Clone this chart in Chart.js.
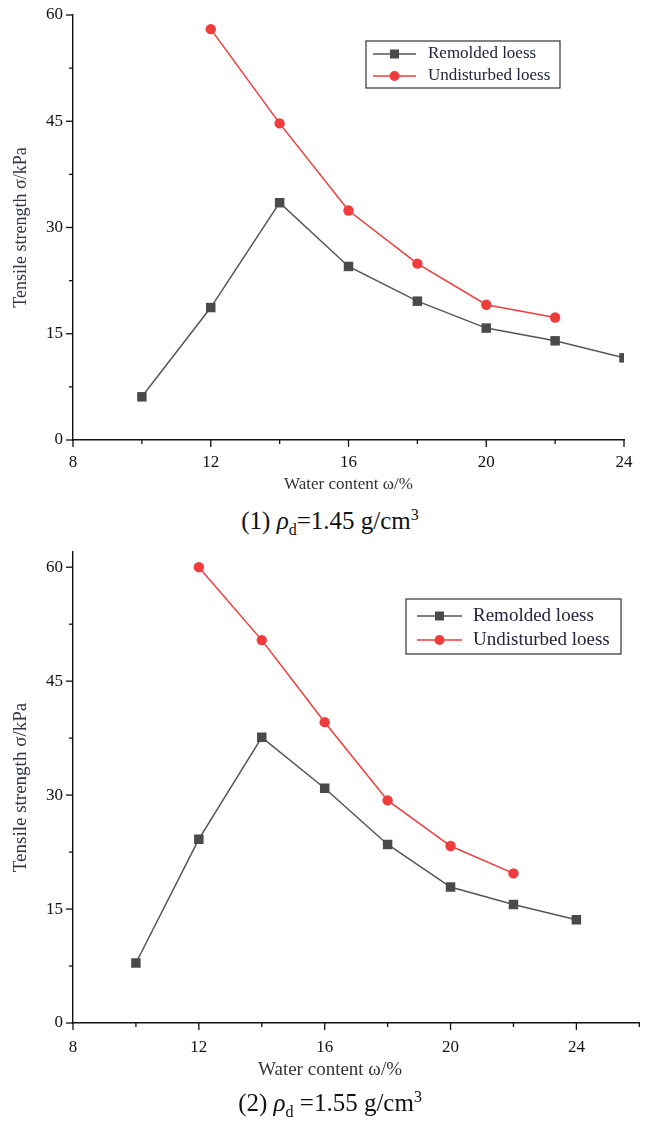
<!DOCTYPE html>
<html>
<head>
<meta charset="utf-8">
<script src="https://cdn.jsdelivr.net/npm/chart.js@4/dist/chart.umd.min.js"></script>
<style>
  body { margin: 0; background: #fff; }
  #wrap { position: relative; width: 646px; height: 1122px; }
  canvas { position: absolute; left: 0; }
  .cap { position: absolute; left: 0; width: 660px; text-align: center;
         font-family: "Liberation Serif", serif; font-size: 25px; color: #111; line-height: 28px; }
  .cap sub, .cap sup { font-size: 16px; }
</style>
</head>
<body>
<div id="wrap">
  <canvas id="c1" width="646" height="500" style="top:0"></canvas>
  <div class="cap" style="top:501px">(1) <i>ρ</i><sub>d</sub>=1.45 g/cm<sup>3</sup></div>
  <canvas id="c2" width="646" height="555" style="top:530px"></canvas>
  <div class="cap" style="top:1083px">(2) <i>ρ</i><sub>d</sub> =1.55 g/cm<sup>3</sup></div>
</div>
<script>
// water content (%) for each series
const remoldedX = [10, 12, 14, 16, 18, 20, 22, 24];
const undisturbedX = [12, 14, 16, 18, 20, 22];

// tensile strength (kPa), rho_d = 1.45 g/cm3
const remolded145 = [6.1, 18.7, 33.5, 24.5, 19.6, 15.8, 14.0, 11.6];
const undisturbed145 = [58.0, 44.7, 32.4, 24.9, 19.1, 17.3];

// tensile strength (kPa), rho_d = 1.55 g/cm3
const remolded155 = [7.9, 24.2, 37.6, 30.9, 23.5, 17.9, 15.6, 13.6];
const undisturbed155 = [60.0, 50.4, 39.6, 29.3, 23.3, 19.7];

const xLabels = [8, 12, 16, 20, 24];
const yLabels = [0, 15, 30, 45, 60];

const GRAY = '#4a4a4a';
const RED = '#f03c3c';
const SERIF = '"Liberation Serif", "Times New Roman", serif';

function pts(xs, ys) {
  return xs.map(function (x, i) { return { x: x, y: ys[i] }; });
}

// short outward tick marks, long on labelled values
const tickMarks = {
  id: 'tickMarks',
  afterDraw: function (chart) {
    const ctx = chart.ctx;
    ctx.save();
    ctx.strokeStyle = '#111';
    ctx.lineWidth = 1.3;
    const xs = chart.scales.x, ys = chart.scales.y;
    xs.ticks.forEach(function (t) {
      const px = xs.getPixelForValue(t.value);
      const len = xLabels.indexOf(t.value) >= 0 ? 7 : 4;
      ctx.beginPath();
      ctx.moveTo(px, xs.top);
      ctx.lineTo(px, xs.top + len);
      ctx.stroke();
    });
    ys.ticks.forEach(function (t) {
      const py = ys.getPixelForValue(t.value);
      const len = yLabels.indexOf(t.value) >= 0 ? 7 : 4;
      ctx.beginPath();
      ctx.moveTo(ys.right, py);
      ctx.lineTo(ys.right - len, py);
      ctx.stroke();
    });
    ctx.restore();
  }
};

// boxed legend like the original figure
const boxLegend = {
  id: 'boxLegend',
  afterDraw: function (chart, args, opts) {
    const ctx = chart.ctx;
    ctx.save();
    ctx.strokeStyle = '#333';
    ctx.lineWidth = 1.2;
    ctx.strokeRect(opts.x, opts.y, opts.w, opts.h);
    ctx.font = opts.fontSize + 'px ' + SERIF;
    ctx.textBaseline = 'middle';
    chart.data.datasets.forEach(function (ds, i) {
      const y = opts.rowY[i];
      ctx.strokeStyle = ds.borderColor;
      ctx.lineWidth = 1.6;
      ctx.beginPath();
      ctx.moveTo(opts.lineX, y);
      ctx.lineTo(opts.lineX + opts.lineW, y);
      ctx.stroke();
      ctx.fillStyle = ds.pointBackgroundColor;
      const cx = opts.lineX + opts.lineW / 2;
      if (ds.pointStyle === 'rect') {
        ctx.fillRect(cx - 4.5, y - 4.5, 9, 9);
      } else {
        ctx.beginPath();
        ctx.arc(cx, y, 5, 0, Math.PI * 2);
        ctx.fill();
      }
      ctx.fillStyle = '#22243a';
      ctx.fillText(ds.label, opts.textX, y);
    });
    ctx.restore();
  }
};

function makeChart(id, remolded, undisturbed, cfg) {
  return new Chart(document.getElementById(id), {
    type: 'line',
    data: {
      datasets: [{
        label: 'Remolded loess',
        data: pts(remoldedX, remolded),
        borderColor: '#555555',
        borderWidth: 1.5,
        pointStyle: 'rect',
        pointRadius: 6.7,
        pointBackgroundColor: GRAY,
        pointBorderColor: GRAY,
        pointBorderWidth: 0,
        clip: 0
      }, {
        label: 'Undisturbed loess',
        data: pts(undisturbedX, undisturbed),
        borderColor: RED,
        borderWidth: 1.5,
        pointStyle: 'circle',
        pointRadius: 5.2,
        pointBackgroundColor: RED,
        pointBorderColor: RED,
        pointBorderWidth: 0,
        clip: 0
      }]
    },
    options: {
      responsive: false,
      animation: false,
      devicePixelRatio: 1,
      layout: { padding: cfg.padding },
      plugins: {
        legend: { display: false },
        tooltip: { enabled: false },
        boxLegend: cfg.legend
      },
      scales: {
        x: {
          type: 'linear',
          min: 8,
          max: cfg.xMax,
          afterFit: function (s) {
            s.height = cfg.xHeight;
            s.paddingLeft = 0;
            s.paddingRight = 0;
          },
          grid: { display: false, drawTicks: false },
          border: { display: true, color: '#111', width: 1.4 },
          ticks: {
            stepSize: 2,
            autoSkip: false,
            maxRotation: 0,
            padding: cfg.xTickPad,
            color: '#111',
            font: { family: SERIF, size: 17 },
            callback: function (v) { return xLabels.indexOf(v) >= 0 ? String(v) : ''; }
          },
          title: {
            display: true,
            text: cfg.xTitle,
            color: '#333',
            padding: cfg.xTitlePad,
            font: { family: SERIF, size: cfg.titleSize }
          }
        },
        y: {
          min: 0,
          max: cfg.yMax,
          afterFit: function (s) {
            s.width = 73;
            s.paddingTop = 0;
            s.paddingBottom = 0;
          },
          grid: { display: false, drawTicks: false },
          border: { display: true, color: '#111', width: 1.4 },
          ticks: {
            stepSize: 7.5,
            includeBounds: false,
            autoSkip: false,
            padding: 10,
            color: '#111',
            font: { family: SERIF, size: 17 },
            callback: function (v) { return yLabels.indexOf(v) >= 0 ? String(v) : ''; }
          },
          title: {
            display: true,
            text: 'Tensile strength σ/kPa',
            color: '#2f3447',
            padding: 10,
            font: { family: SERIF, size: cfg.yTitleSize }
          }
        }
      }
    },
    plugins: [tickMarks, boxLegend]
  });
}

makeChart('c1', remolded145, undisturbed145, {
  padding: { top: 15, right: 22, left: 0, bottom: 0 },
  xMax: 24, yMax: 60, xHeight: 60, xTickPad: 12, xTitlePad: 5,
  xTitle: 'Water content ω/%', titleSize: 17, yTitleSize: 18,
  legend: { x: 366, y: 41, w: 194, h: 47, lineX: 373, lineW: 43, textX: 428, rowY: [54, 76], fontSize: 17 }
});

makeChart('c2', remolded155, undisturbed155, {
  padding: { top: 22, right: 2, left: 0, bottom: 0 },
  xMax: 26, yMax: 62, xHeight: 62, xTickPad: 14, xTitlePad: 4,
  xTitle: 'Water content ω/%\u00a0\u00a0\u00a0\u00a0\u00a0\u00a0\u00a0\u00a0\u00a0\u00a0\u00a0',
  titleSize: 19, yTitleSize: 19,
  legend: { x: 406, y: 69, w: 215, h: 55, lineX: 417, lineW: 45, textX: 473, rowY: [86, 110], fontSize: 19 }
});
</script>
</body>
</html>
